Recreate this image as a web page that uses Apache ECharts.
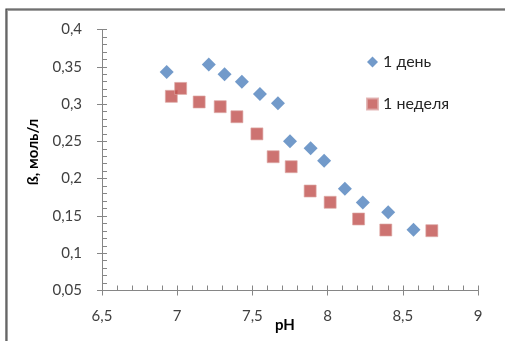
<!DOCTYPE html>
<html>
<head>
<meta charset="utf-8">
<script src="https://cdn.jsdelivr.net/npm/echarts@6/dist/echarts.min.js"></script>
<style>html,body{margin:0;padding:0;background:#fff;}#c{width:505px;height:341px;}</style>
</head>
<body>
<div id="c"></div>
<script>
const seriesNames = ['1 день', '1 неделя'];
const dayPH   = [6.93, 7.21, 7.315, 7.43, 7.55, 7.67, 7.75, 7.887, 7.977, 8.115, 8.234, 8.403, 8.571];
const dayB    = [0.343, 0.353, 0.340, 0.330, 0.3135, 0.301, 0.250, 0.2407, 0.224, 0.1865, 0.168, 0.155, 0.1315];
const weekPH  = [6.961, 7.023, 7.146, 7.286, 7.397, 7.530, 7.638, 7.758, 7.884, 8.017, 8.206, 8.387, 8.693];
const weekB   = [0.3104, 0.321, 0.3028, 0.2965, 0.283, 0.260, 0.2294, 0.216, 0.1834, 0.1683, 0.1459, 0.1311, 0.1302];
const xTitle = 'pH';
const yTitle = 'ß, моль/л';

const FONT = 'Lato, "Open Sans", sans-serif';
const comma = v => String(+v.toFixed(2)).replace('.', ',');
const TICK = '#868686';
const axisLineStyle = {lineStyle: {color: TICK, width: 1}};

const chart = echarts.init(document.getElementById('c'), null, {renderer: 'canvas'});
const gridBox = {left: 102, right: 27, top: 29.5, bottom: 50.5, containLabel: false, outerBoundsMode: 'none'};
const xBase = {type: 'value', min: 6.5, max: 9, interval: 0.5, splitLine: {show: false}, axisLine: axisLineStyle};
const yBase = {type: 'value', min: 0.05, max: 0.4, interval: 0.05, splitLine: {show: false}, axisLine: axisLineStyle};

chart.setOption({
  animation: false,
  textStyle: {fontFamily: FONT},
  grid: [Object.assign({}, gridBox), Object.assign({}, gridBox)],
  graphic: [
    {type: 'polyline', shape: {points: [[7, 341], [7, 10], [505, 10]]}, style: {stroke: '#a0a0a0', lineWidth: 2, fill: null}},
    {type: 'polyline', shape: {points: [[6, 341], [6, 9], [505, 9]]}, style: {stroke: '#404040', lineWidth: 1.2, fill: null}},
    {type: 'text', x: 33, y: 152, rotation: Math.PI / 2,
      style: {text: yTitle, font: 'bold 15px ' + FONT, fill: '#000', align: 'center', verticalAlign: 'middle'}}
  ],
  legend: {
    orient: 'vertical', left: 361, top: 49, itemGap: 26, itemWidth: 11, itemHeight: 11,
    textStyle: {fontSize: 16, color: '#262626', fontFamily: FONT},
    data: [{name: seriesNames[0], icon: 'diamond'}, {name: seriesNames[1], icon: 'rect'}]
  },
  xAxis: [
    Object.assign({}, xBase, {
      gridIndex: 0,
      name: xTitle, nameLocation: 'middle', nameGap: 27, nameMoveOverlap: false,
      nameTextStyle: {fontWeight: 'bold', fontSize: 15, color: '#000', padding: [0, 10, 0, 0]},
      axisTick: {show: true, inside: true, length: 5, lineStyle: {color: TICK}},
      minorTick: {show: true, splitNumber: 5, length: 5, lineStyle: {color: TICK}},
      axisLabel: {margin: 18, fontSize: 15, color: '#404040', formatter: comma}
    }),
    Object.assign({}, xBase, {
      gridIndex: 1,
      axisTick: {show: true, inside: false, length: 5, lineStyle: {color: TICK}},
      axisLabel: {show: false}
    })
  ],
  yAxis: [
    Object.assign({}, yBase, {
      gridIndex: 0,
      axisTick: {show: true, inside: true, length: 5, lineStyle: {color: TICK}},
      minorTick: {show: true, splitNumber: 5, length: 5, lineStyle: {color: TICK}},
      axisLabel: {margin: 20, fontSize: 15, color: '#404040', formatter: comma}
    }),
    Object.assign({}, yBase, {
      gridIndex: 1,
      axisTick: {show: true, inside: false, length: 5, lineStyle: {color: TICK}},
      axisLabel: {show: false}
    })
  ],
  series: [
    {
      name: seriesNames[0], type: 'scatter', symbol: 'diamond', symbolSize: 14,
      xAxisIndex: 0, yAxisIndex: 0,
      itemStyle: {color: '#4F81BD'},
      data: dayPH.map((x, i) => [x, dayB[i]])
    },
    {
      name: seriesNames[1], type: 'scatter', symbol: 'rect', symbolSize: 12,
      xAxisIndex: 0, yAxisIndex: 0,
      itemStyle: {color: '#C0504D', borderColor: '#DDA8A6', borderWidth: 0.8},
      data: weekPH.map((x, i) => [x, weekB[i]])
    },
    {
      name: 'axes', type: 'scatter', xAxisIndex: 1, yAxisIndex: 1, data: [], silent: true
    }
  ]
});
</script>
</body>
</html>
